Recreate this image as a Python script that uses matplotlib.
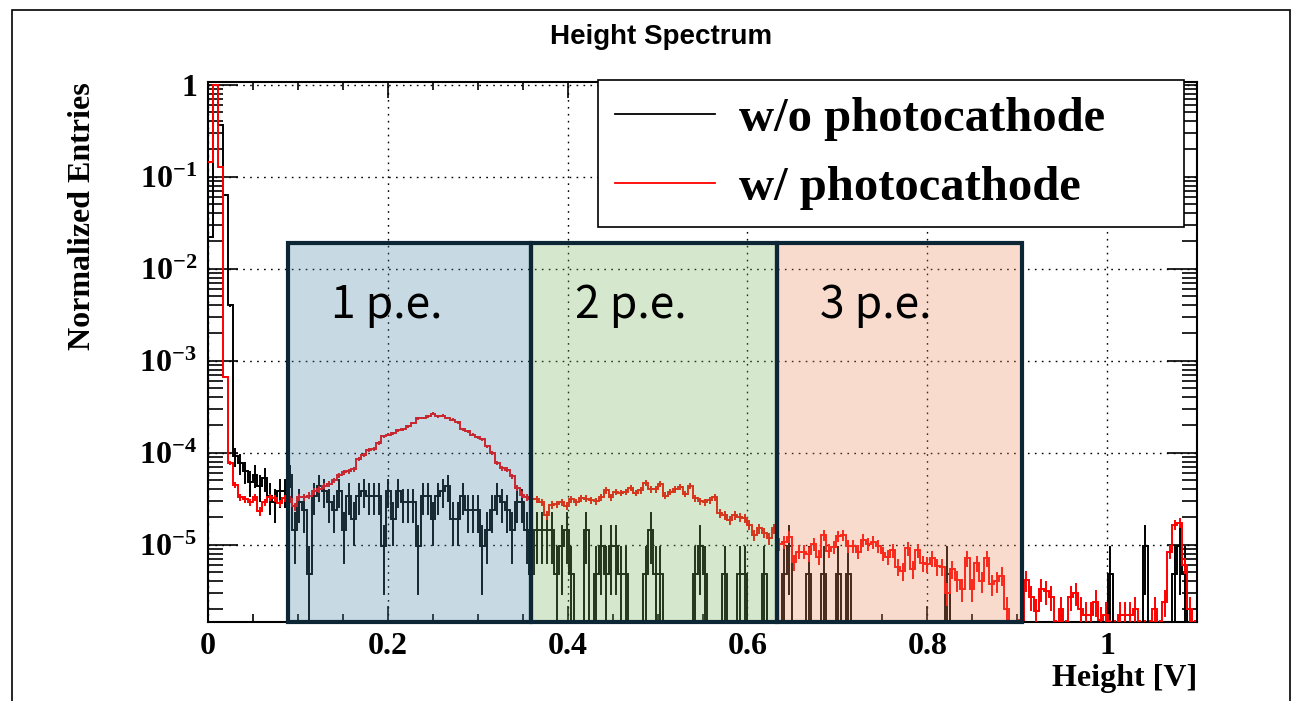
import numpy as np
import matplotlib
matplotlib.use("Agg")
import matplotlib.pyplot as plt
from matplotlib.patches import Rectangle
from matplotlib.lines import Line2D
from matplotlib.colors import to_rgba
from matplotlib.ticker import FixedLocator, MultipleLocator, LogLocator, NullFormatter

plt.rcParams["mathtext.fontset"] = "custom"
plt.rcParams["mathtext.rm"] = "Liberation Serif:bold"
plt.rcParams["mathtext.it"] = "Liberation Serif:bold"
plt.rcParams["mathtext.bf"] = "Liberation Serif:bold"

# binning: 200 bins between 0 and 1.1 V
N_BINS = 200
X_MAX = 1.1

# --- w/o photocathode (black) ---
# first bins as normalized entries, rest as raw entries (1 entry = BLACK_UNIT)
BLACK_UNIT = 4.8e-6
black_head = [0.022, 1.0, 0.365, 0.064, 0.0040]
black_tail_entries = [
    19, 16, 13, 10, 12, 9, 11, 7, 6, 8, 8, 12, 3, 6, 5, 1, 7, 9, 8, 6,      # 5-24
    5, 8, 3, 7, 4, 7, 8, 7, 7, 7, 2, 8, 4, 8, 6, 6, 6, 2, 7, 7,            # 25-44
    4, 7, 8, 9, 4, 4, 7, 5, 5, 5, 2, 3, 5, 7, 6, 5, 3, 6, 6, 3,            # 45-64
    1, 3, 3, 3, 3, 1, 2, 3, 1, 0, 0, 3, 0, 1, 2, 1, 2, 2, 1, 1,            # 65-84
    0, 0, 0, 1, 3, 1, 1, 0, 0, 0, 0, 0, 0, 1, 2, 1, 0, 0, 0, 1,            # 85-104
    0, 0, 1, 1, 0, 0, 0, 1, 0, 0, 0, 1, 2, 0, 0, 0, 1, 0, 0, 1,            # 105-124
    0, 0, 1, 0, 1, 0, 0, 0, 0, 0, 0, 0, 0, 0, 0, 0, 0, 0, 0, 0,            # 125-144
    0, 0, 0, 0, 1, 0, 0, 0, 0, 0, 0, 0, 0, 0, 0, 0, 0, 0, 0, 0,            # 145-164
    0, 0, 0, 0, 0, 0, 0, 0, 0, 0, 0, 0, 0, 0, 0, 0, 0, 1, 0, 0,            # 165-184
    0, 0, 0, 0, 2, 0, 0, 0, 0, 0, 1, 2, 1, 0, 0,                           # 185-199
]

# --- w/ photocathode (red) ---
RED_UNIT = 2.5e-7
red_head = [0.145, 1.0, 0.127, 6.7e-4]
# bins 4-199, in units of 1e-5
red_tail_1e5 = [
    7.7, 4.5, 3.3, 3.1, 2.9, 3.3, 2.3, 2.9, 3.3, 3.2, 2.8, 3.2, 3.1, 2.6, 3.3, 3.3,      # 4-19
    3.4, 3.8, 4.0, 4.3, 4.6, 5.0, 5.7, 6.1, 6.3, 6.6, 8.5, 9.5, 10.7, 11.0, 12.7, 15.0,  # 20-35
    15.6, 16.3, 17.4, 18.0, 19.3, 21.0, 23.5, 23.8, 24.8, 26.6, 24.8, 25.2, 23.8, 22.8,  # 36-49
    21.3, 18.0, 17.0, 15.6, 14.7, 14.0, 11.7, 9.9, 7.7, 6.8, 6.5, 5.5, 4.1, 3.5, 3.3,    # 50-64
    3.1, 3.1, 2.9, 2.1, 2.7, 2.75, 2.9, 2.65, 3.1, 2.9, 3.2, 3.15, 3.05, 2.95, 3.3,      # 65-79
    3.9, 3.3, 3.75, 3.65, 3.75, 4.1, 3.65, 3.9, 4.7, 4.0, 4.0, 4.6, 3.4, 3.75, 4.0,      # 80-94
    4.2, 3.55, 4.35, 3.2, 2.95, 2.9, 3.05, 3.3, 2.2, 2.1, 1.85, 2.1, 1.98, 1.93, 1.63,   # 95-109
    1.27, 1.5, 1.35, 1.17, 1.5, 1.01, 1.07, 1.22, 0.65, 0.84, 0.84, 0.79, 1.01, 0.74,    # 110-123
    1.27, 0.86, 0.95, 1.24, 1.27, 0.96, 0.96, 0.84, 1.12, 1.01, 1.07, 0.96, 0.81, 0.74,  # 124-137
    0.87, 0.57, 0.51, 0.91, 0.54, 0.87, 0.63, 0.61, 0.71, 0.58, 0.57, 0.30, 0.54, 0.41,  # 138-151
    0.33, 0.71, 0.33, 0.63, 0.40, 0.71, 0.37, 0.40, 0.46, 0.20, 0.10, 0.10, 0.15, 0.41,  # 152-165
    0.27, 0.19, 0.33, 0.31, 0.27, 0.10, 0.20, 0.10, 0.27, 0.30, 0.20, 0.17, 0.17, 0.24,  # 166-179
    0.15, 0.17, 0.10, 0.10, 0.17, 0.17, 0.17, 0.20, 0.10, 0.10, 0.10, 0.20, 0.10, 0.24,  # 180-193
    0.84, 1.63, 1.73, 0.60, 0.20, 0.10,                                                  # 194-199
]

# p.e. regions
pe_labels = ["1 p.e.", "2 p.e.", "3 p.e."]
pe_edges = [0.0885, 0.3597, 0.6325, 0.9053]
pe_top = 0.019
pe_colors = ["#4884a0", "#76b25c", "#e88a5c"]

y_ticks = [1e-5, 1e-4, 1e-3, 1e-2, 1e-1, 1]
y_ticklabels = [r"$10^{-5}$", r"$10^{-4}$", r"$10^{-3}$", r"$10^{-2}$", r"$10^{-1}$", "1"]

Y_MIN, Y_MAX = 1.44e-6, 1.07

edges = np.linspace(0, X_MAX, N_BINS + 1)
centers = 0.5 * (edges[:-1] + edges[1:])
black = np.concatenate([black_head, np.array(black_tail_entries) * BLACK_UNIT])
red = np.concatenate([red_head, np.array(red_tail_1e5) * 1e-5])

fig = plt.figure(figsize=(13.02, 7.01), dpi=100)
fig.patches.append(Rectangle((12 / 1302, -0.05), (1290 - 12) / 1302, 1 - 10 / 701 + 0.05,
                             transform=fig.transFigure, fill=False, lw=1.2, ec="black"))
ax = fig.add_axes([208 / 1302, 1 - 622 / 701, (1197 - 208) / 1302, (622 - 82) / 701])
ax.set_yscale("log")


def draw_hist(vals, unit, color):
    shown = np.where(vals > 0, vals, 1e-12)
    ax.stairs(shown, edges, color=color, lw=1.4, baseline=None, zorder=3)
    err = np.sqrt(vals * unit)
    ok = vals > 0
    lo = np.maximum(vals - err, 1e-12)
    ax.vlines(centers[ok], lo[ok], (vals + err)[ok], color=color, lw=1.4, zorder=3)


draw_hist(black, BLACK_UNIT, "black")
draw_hist(red, RED_UNIT, "red")

for i, lab in enumerate(pe_labels):
    x0, x1 = pe_edges[i], pe_edges[i + 1]
    ax.add_patch(Rectangle((x0, Y_MIN), x1 - x0, pe_top - Y_MIN,
                           facecolor=to_rgba(pe_colors[i], 0.3), edgecolor="#0c2636",
                           lw=3.0, zorder=5, clip_on=False))
    ax.text(x0 + 0.0485, 2.9e-3, lab, fontsize=32, family="Noto Sans CJK KR",
            ha="left", va="baseline", zorder=6)

ax.set_xlim(0, X_MAX)
ax.set_ylim(Y_MIN, Y_MAX)
ax.xaxis.set_minor_locator(MultipleLocator(0.05))
ax.set_xticks([0, 0.2, 0.4, 0.6, 0.8, 1.0])
ax.set_xticklabels(["0", "0.2", "0.4", "0.6", "0.8", "1"])
ax.yaxis.set_major_locator(FixedLocator(y_ticks))
ax.set_yticklabels(y_ticklabels)
ax.yaxis.set_minor_locator(LogLocator(base=10, subs=np.arange(2, 10)))
ax.yaxis.set_minor_formatter(NullFormatter())

ax.tick_params(which="both", direction="in", top=True, right=True, width=1.2)
ax.tick_params(axis="x", which="major", length=11.5, pad=7)
ax.tick_params(axis="x", which="minor", length=6)
ax.tick_params(axis="y", which="major", length=21.5, pad=8)
ax.tick_params(axis="y", which="minor", length=11)
for lab in ax.get_xticklabels() + ax.get_yticklabels():
    lab.set_fontfamily("Liberation Serif")
    lab.set_fontweight("bold")
    lab.set_fontsize(23)
for sp in ax.spines.values():
    sp.set_linewidth(1.5)

ax.grid(True, which="major", color="black", lw=1.0, linestyle=(0, (1.2, 3.8)))

ax.set_xlabel("Height [V]", fontsize=23, family="Liberation Serif", fontweight="bold", ha="right")
ax.xaxis.set_label_coords(1.0, -0.078)
ax.set_ylabel("Normalized Entries", fontsize=23, family="Liberation Serif", fontweight="bold",
              ha="right", va="center")
ax.yaxis.set_label_coords(-0.127, 1.0)

fig.text(661 / 1302, 1 - 37 / 701, "Height Spectrum", fontsize=20, family="Liberation Sans",
         fontweight="bold", ha="center", va="center")

handles = [Line2D([], [], color="black", lw=1.3), Line2D([], [], color="red", lw=1.3)]
leg = ax.legend(handles, ["w/o photocathode", "w/ photocathode"], loc="upper left",
                bbox_to_anchor=(598 / 1302, 1 - 80 / 701, (1184 - 598) / 1302, 0.0),
                bbox_transform=fig.transFigure, mode="expand",
                prop={"family": "Liberation Serif", "weight": "bold", "size": 35},
                frameon=True, fancybox=False, framealpha=1, edgecolor="black",
                borderpad=0.35, handlelength=2.06, handletextpad=0.5, labelspacing=0.52,
                borderaxespad=0)
leg.get_frame().set_linewidth(1.2)
leg.set_zorder(10)

fig.savefig("out.png", dpi=100)
